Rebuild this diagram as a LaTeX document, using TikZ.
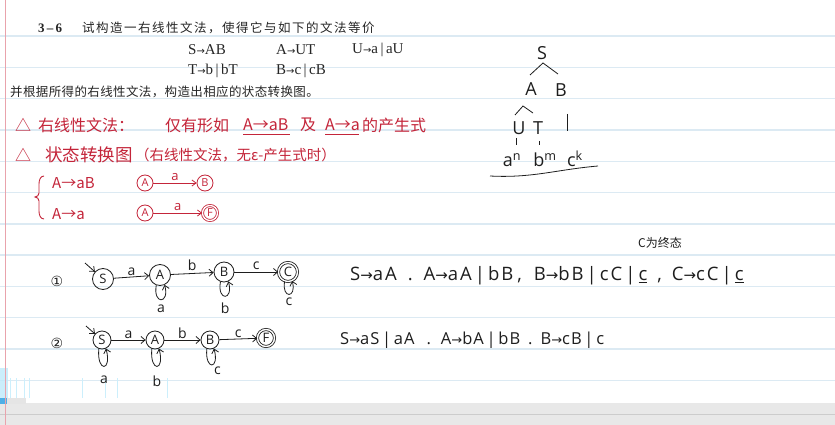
\documentclass[tikz,border=0pt]{standalone}
\usepackage{fontspec}
\setmainfont{Liberation Serif}
\newfontfamily\cjk{Noto Sans CJK SC}
\newfontfamily\hand{Open Sans}
\newfontfamily\sym{DejaVu Sans}
\newcommand\har{{\sym\fontsize{15}{15}\selectfont →}}
\newcommand\hars{{\sym\fontsize{13}{13}\selectfont →}}
\newcommand\prr{{\sym\fontsize{10}{10}\selectfont →}}
\usetikzlibrary{arrows.meta}
\definecolor{ink}{HTML}{1E1E1E}
\definecolor{redink}{HTML}{C4253A}
\definecolor{rulec}{HTML}{DCEAF3}
\definecolor{marginc}{HTML}{E9A3AC}
\definecolor{printc}{HTML}{262626}
\tikzset{
  prt/.style={text=printc,inner sep=0pt,anchor=west,font=\fontsize{15}{16}\selectfont},
  pcjk/.style={text=printc,inner sep=0pt,anchor=west,font=\cjk\fontsize{12.5}{14}\selectfont},
  rtxt/.style={text=redink,inner sep=0pt,anchor=west,font=\cjk\fontsize{16}{18}\selectfont},
  htxt/.style={text=ink,inner sep=0pt,anchor=west,font=\hand\fontsize{16}{18}\selectfont},
  tnode/.style={text=ink,inner sep=0pt,font=\hand\fontsize{18}{18}\selectfont},
  lbl/.style={text=ink,inner sep=0pt,font=\hand\fontsize{14}{14}\selectfont},
  rlbl/.style={text=redink,inner sep=0pt,font=\hand\fontsize{13}{13}\selectfont},
  rst/.style={circle,draw=redink,line width=0.8pt,inner sep=0pt,minimum size=16pt,text=redink,font=\hand\fontsize{11}{11}\selectfont},
  racc/.style={rst,double=white,double distance=1.3pt,minimum size=15pt},
  kst/.style={circle,draw=ink,line width=0.8pt,inner sep=0pt,minimum size=21pt,text=ink,font=\hand\fontsize{13}{13}\selectfont},
  kacc/.style={kst,double=white,double distance=1.4pt,minimum size=19pt},
  redge/.style={draw=redink,line width=0.8pt,-{Straight Barb[length=4pt,width=6pt]}},
  kedge/.style={draw=ink,line width=0.8pt,-{Straight Barb[length=4pt,width=7pt]}},
  kline/.style={draw=ink,line width=0.8pt},
}
\begin{document}
\begin{tikzpicture}[x=1pt,y=-1pt]
\useasboundingbox (0,0) rectangle (835,425);
\fill[white] (0,0) rectangle (835,425);
% ruled lines
\foreach \k in {0,...,11} {
  \draw[rulec,line width=1.4pt] (0,{36+31.3*\k}) -- (835,{36+31.3*\k});
}
% bottom player band
\fill[black!9] (0,403) rectangle (835,425);
\draw[black!20,line width=0.8pt] (0,414) -- (835,414);
\fill[cyan!25,opacity=0.8] (0,368) rectangle (8,398);
\foreach \xx in {10,16,24,29,82,105,117,167} {\draw[cyan!20,line width=1pt] (\xx,378) -- (\xx,398);}
\fill[cyan!80!blue!70] (0,398) rectangle (7,404);
\fill[white!90!black] (7,398) rectangle (26,404);
% margin
\draw[marginc,line width=0.8pt] (5,0) -- (5,425);

% printed problem
\node[prt,font=\bfseries\fontsize{13}{14}\selectfont] (num) at (38,28) {3\,–\,6};
\node[pcjk] (q1) at (82,28) {\addfontfeature{LetterSpace=12}试构造一右线性文法，使得它与如下的文法等价};
\node[prt] (g1) at (188,50) {S\prr AB};
\node[prt] (g2) at (276,50) {A\prr UT};
\node[prt] (g3) at (352,50) {U\prr a\,|\,aU};
\node[prt] (g4) at (188,71) {T\prr b\,|\,bT};
\node[prt] (g5) at (276,71) {B\prr c\,|\,cB};
\node[pcjk] (q2) at (10,92) {\addfontfeature{LetterSpace=3}并根据所得的右线性文法，构造出相应的状态转换图。};

% red notes
\node[rtxt] (tri1) at (15,125) {△};
\node[rtxt] (r1a) at (38,125) {右线性文法：};
\node[rtxt] (r1b) at (165,125) {仅有形如};
\node[rtxt] (r1c) at (243,125) {A→aB};
\node[rtxt] (r1d) at (300,125) {及};
\node[rtxt] (r1e) at (325,125) {A→a};
\node[rtxt] (r1f) at (362,125) {的产生式};
\draw[redink,line width=0.8pt] (r1c.south west) ++(0,3) -- ++(47,0);
\draw[redink,line width=0.8pt] (r1e.south west) ++(0,3) -- ++(34,0);
\node[rtxt] (tri2) at (15,155) {△};
\node[rtxt,font=\cjk\fontsize{17.5}{18}\selectfont] (r2a) at (45,155) {状态转换图};
\node[rtxt,font=\cjk\fontsize{14.5}{16}\selectfont] (r2b) at (135,155) {（右线性文法，无ε-产生式时）};
\draw[redink,line width=0.9pt] (44,176) to[out=180,in=90] (39,184) -- (39,193) to[out=-90,in=0] (35,197)
  to[out=0,in=90] (39,201) -- (39,211) to[out=-90,in=180] (44,219);
\node[rtxt,font=\cjk\fontsize{15}{16}\selectfont] (r3) at (52,183) {A→aB};
\node[rtxt,font=\cjk\fontsize{15}{16}\selectfont] (r4) at (52,214) {A→a};
\node[rst] (ra1) at (145,183) {A};
\node[rst] (rb1) at (205,183) {B};
\draw[redge] (ra1) -- node[rlbl,above=2pt] {a} (rb1);
\node[rst] (ra2) at (145,213) {A};
\node[racc] (rf2) at (210,213) {F};
\draw[redge] (ra2) -- node[rlbl,above=2pt] {a} (rf2);

% derivation tree
\node[tnode] (tS) at (542,53) {S};
\node[tnode] (tA) at (531,89) {A};
\node[tnode] (tB) at (561,90) {B};
\node[tnode] (tU) at (519,128) {U};
\node[tnode] (tT) at (538,128) {T};
\node[tnode] (ta) at (512,160) {a\textsuperscript{n}};
\node[tnode] (tb) at (545,160) {b\textsuperscript{m}};
\node[tnode] (tc) at (575,159) {c\textsuperscript{k}};
\draw[kline] (530,75) -- (543,63) -- (558,74);
\draw[kline] (515,115) -- (523,106) -- (533,113);
\draw[kline] (567,114) -- (567,131);
\draw[kline] (516,138) -- (516,145);
\draw[kline] (539,141) -- (539,145);
\draw[kline] (490,176) to[out=-3,in=185] (598,166);

% automaton 1
\node[lbl,font=\sym\fontsize{14}{14}\selectfont] (n1) at (57,281) {①};
\node[kst] (S1) at (103,279) {S};
\node[kst] (A1) at (160,275) {A};
\node[kst,minimum size=20pt] (B1) at (224,272) {B};
\node[kacc] (C1) at (288,272) {C};
\coordinate (in1) at (85,263);
\draw[kedge] (in1) -- (S1);
\draw[kedge] (S1) -- node[lbl,above=1pt] {a} (A1);
\draw[kedge] (A1) -- node[lbl,above=2pt] {b} (B1);
\draw[kedge] (B1) -- node[lbl,above=2pt] {c} (C1);
\draw[kedge] (A1.250) to[out=-100,in=-75,distance=20pt] node[lbl,below=5pt] {a} (A1.295);
\draw[kedge] (B1.250) to[out=-100,in=-75,distance=20pt] node[lbl,below=6pt] {b} (B1.295);
\draw[kedge] (C1.250) to[out=-100,in=-75,distance=18pt] node[lbl,below=3pt] {c} (C1.295);
\node[htxt,font=\hand\fontsize{18.5}{19}\selectfont] (g1t) at (350,276)
  {\addfontfeature{LetterSpace=10}S\har aA\hspace{11pt}.\hspace{11pt}A\har aA\,|\,bB\hspace{4pt},\hspace{12pt}B\har bB\,|\,cC\,|\,\underline{c}\hspace{10pt},\hspace{10pt}C\har cC\,|\,\underline{c}};
\node[htxt,font=\cjk\fontsize{12}{13}\selectfont] (note) at (638,243) {C为终态};

% automaton 2
\node[lbl,font=\sym\fontsize{14}{14}\selectfont] (n2) at (57,343) {②};
\node[kst,minimum size=18pt] (S2) at (102,340) {S};
\node[kst,minimum size=18pt] (A2) at (155,340) {A};
\node[kst,minimum size=18pt] (B2) at (210,340) {B};
\node[kacc,minimum size=17pt] (F2) at (266,338) {F};
\coordinate (in2) at (86,326);
\draw[kedge] (in2) -- (S2);
\draw[kedge] (S2) -- node[lbl,above=1pt] {a} (A2);
\draw[kedge] (A2) -- node[lbl,above=1pt] {b} (B2);
\draw[kedge] (B2) -- node[lbl,above=1pt] {c} (F2);
\draw[kedge] (S2.250) to[out=-95,in=-75,distance=24pt] node[lbl,below=9pt] {a} (S2.295);
\draw[kedge] (A2.250) to[out=-95,in=-75,distance=24pt] node[lbl,below=9pt] {b} (A2.295);
\draw[kedge] (B2.250) to[out=-95,in=-75,distance=22pt] node[lbl,below right=2pt] {c} (B2.295);
\node[htxt,font=\hand\fontsize{16.5}{18}\selectfont] (g2t) at (340,340)
  {\addfontfeature{LetterSpace=6}S\hars aS\,|\,aA\hspace{12pt}.\hspace{10pt}A\hars bA\,|\,bB\hspace{8pt}.\hspace{8pt}B\hars cB\,|\,c};
\end{tikzpicture}
\end{document}
